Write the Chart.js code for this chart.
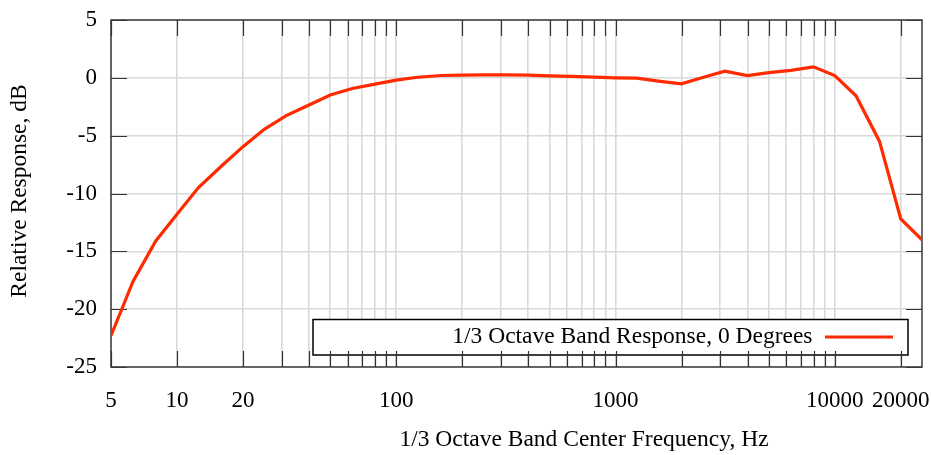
<!DOCTYPE html>
<html>
<head>
<meta charset="utf-8">
<script src="https://cdn.jsdelivr.net/npm/chart.js@4/dist/chart.umd.min.js"></script>
<style>
  body { margin: 0; background: #fff; }
  #wrap { width: 931px; height: 455px; }
</style>
</head>
<body>
<div id="wrap"><canvas id="responseChart" width="931" height="455"></canvas></div>
<script>
// 1/3 octave band centre frequencies (Hz) and measured response (dB)
const bandFreqs = [5, 6.3, 8, 10, 12.5, 16, 20, 25, 31.5, 40, 50, 63, 80, 100, 125, 160, 200, 250, 315, 400,
  500, 630, 800, 1000, 1250, 1600, 2000, 2500, 3150, 4000, 5000, 6300, 8000, 10000, 12500, 16000, 20000, 25000];
const responseDb = [-22.3, -17.6, -14.1, -11.8, -9.5, -7.6, -5.95, -4.45, -3.27, -2.35, -1.49, -0.92, -0.54, -0.2, 0.05, 0.2, 0.23, 0.26, 0.26, 0.23,
  0.17, 0.12, 0.06, 0.0, -0.02, -0.3, -0.52, 0.03, 0.57, 0.2, 0.45, 0.65, 0.95, 0.2, -1.55, -5.5, -12.2, -14.0];

// x grid lines / tick marks and which of them get a label
const xGridValues = [5, 10, 20, 30, 40, 50, 60, 70, 80, 90, 100, 200, 300, 400, 500, 600, 700, 800, 900,
  1000, 2000, 3000, 4000, 5000, 6000, 7000, 8000, 9000, 10000, 20000];
const xTickLabels = [5, 10, 20, 100, 1000, 10000, 20000];
const yTickValues = [-25, -20, -15, -10, -5, 0, 5];

const seriesLabel = '1/3 Octave Band Response, 0 Degrees';
const xTitle = '1/3 Octave Band Center Frequency, Hz';
const yTitle = 'Relative Response, dB';

const FONT = "'Liberation Serif', 'Times New Roman', serif";
const LINE_COLOR = '#ff2a00';

// gnuplot-like frame, inward ticks and key box
const framePlugin = {
  id: 'frame',
  beforeDatasetsDraw(chart) {
    const { ctx, chartArea: a, scales: { x, y } } = chart;
    ctx.save();
    // key box
    ctx.fillStyle = '#fff';
    ctx.fillRect(313, 319.5, 595, 35.5);
    ctx.strokeStyle = '#000';
    ctx.lineWidth = 1.5;
    ctx.strokeRect(313, 319.5, 595, 35.5);

    // tick marks pointing into the plot
    const len = 16;
    ctx.strokeStyle = '#333';
    ctx.lineWidth = 1.2;
    ctx.beginPath();
    xGridValues.forEach(v => {
      const px = Math.round(x.getPixelForValue(v)) + 0.5;
      ctx.moveTo(px, a.bottom); ctx.lineTo(px, a.bottom - len);
      ctx.moveTo(px, a.top); ctx.lineTo(px, a.top + len);
    });
    yTickValues.forEach(v => {
      const py = Math.round(y.getPixelForValue(v)) + 0.5;
      ctx.moveTo(a.left, py); ctx.lineTo(a.left + len, py);
      ctx.moveTo(a.right, py); ctx.lineTo(a.right - len, py);
    });
    ctx.stroke();

    ctx.strokeStyle = '#3a3a3a';
    ctx.lineWidth = 1.5;
    ctx.strokeRect(a.left, a.top, a.right - a.left, a.bottom - a.top);
    ctx.restore();
  },
  afterDraw(chart) {
    const { ctx } = chart;
    ctx.save();
    ctx.fillStyle = '#000';
    ctx.font = '23.5px ' + FONT;

    // key entry
    ctx.textAlign = 'right';
    ctx.textBaseline = 'alphabetic';
    ctx.fillText(chart.data.datasets[0].label, 812.5, 343);
    ctx.strokeStyle = LINE_COLOR;
    ctx.lineWidth = 3.2;
    ctx.beginPath();
    ctx.moveTo(825, 337);
    ctx.lineTo(893, 337);
    ctx.stroke();

    // axis titles
    ctx.textAlign = 'center';
    ctx.fillText(xTitle, 584, 446);
    ctx.translate(26, 191);
    ctx.rotate(-Math.PI / 2);
    ctx.fillText(yTitle, 0, 0);
    ctx.restore();
  }
};

new Chart(document.getElementById('responseChart'), {
  type: 'line',
  data: {
    datasets: [{
      label: seriesLabel,
      data: bandFreqs.map((f, i) => ({ x: f, y: responseDb[i] })),
      borderColor: LINE_COLOR,
      borderWidth: 3.2,
      pointRadius: 0,
      tension: 0,
      fill: false
    }]
  },
  options: {
    responsive: false,
    animation: false,
    layout: { padding: { left: 0, top: 20, right: 9, bottom: 0 }, autoPadding: false },
    plugins: {
      legend: { display: false },
      tooltip: { enabled: false }
    },
    scales: {
      x: {
        type: 'logarithmic',
        min: 5,
        max: 25000,
        afterBuildTicks: scale => { scale.ticks = xGridValues.map(v => ({ value: v })); },
        afterFit: scale => {
          scale.height = 88;
          scale.paddingLeft = 0; scale.paddingRight = 0;
        },
        grid: { color: '#d9d9d9', lineWidth: 1.6, drawTicks: false },
        border: { display: false },
        ticks: {
          autoSkip: false,
          maxRotation: 0,
          padding: 20,
          color: '#000',
          font: { family: FONT, size: 23 },
          callback: v => xTickLabels.includes(v) ? String(v) : ''
        }
      },
      y: {
        min: -25,
        max: 5,
        afterBuildTicks: scale => { scale.ticks = yTickValues.map(v => ({ value: v })); },
        afterFit: scale => {
          scale.width = 111;
          scale.paddingTop = 0; scale.paddingBottom = 0;
        },
        grid: { color: '#d9d9d9', lineWidth: 1.6, drawTicks: false },
        border: { display: false },
        ticks: {
          padding: 14,
          color: '#000',
          font: { family: FONT, size: 23 }
        }
      }
    }
  },
  plugins: [framePlugin]
});
</script>
</body>
</html>
